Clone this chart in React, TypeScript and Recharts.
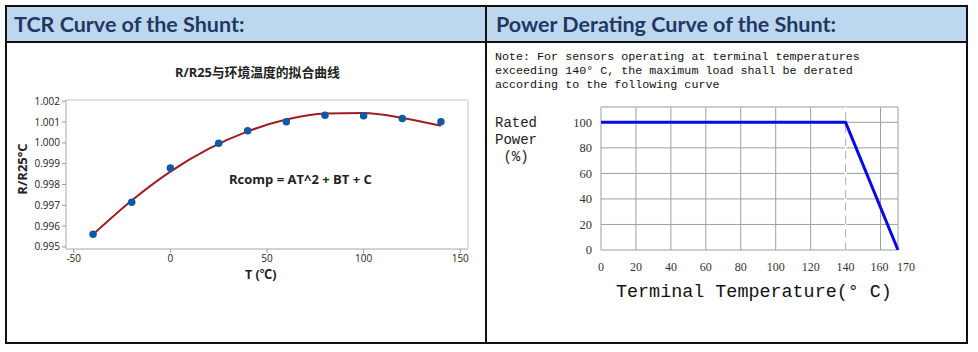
import React from "react"
import {
  ComposedChart,
  LineChart,
  Line,
  Scatter,
  XAxis,
  YAxis,
  ZAxis,
  CartesianGrid,
  ReferenceArea,
  ReferenceLine,
} from "recharts"

const tcrTemps = [-40, -20, 0, 25, 40, 60, 80, 100, 120, 140]
const tcrRatio = [0.99561, 0.99715, 0.99879, 0.99998, 1.00058, 1.00101, 1.00133, 1.0013, 1.00117, 1.00101]
const fitTemps = [-40, -20, 0, 20, 40, 60, 80, 100, 120, 140]
const fitRatio = [0.9956, 0.99723, 0.99862, 0.99972, 1.00055, 1.00112, 1.00141, 1.00143, 1.0012, 1.00082]
const tcrXTicks = [-50, 0, 50, 100, 150]
const tcrYTicks = [0.995, 0.996, 0.997, 0.998, 0.999, 1.0, 1.001, 1.002]

// derating curve
const deratTemps = [0, 140, 170]
const deratPower = [100, 100, 0]
const deratXTicks = [0, 20, 40, 60, 80, 100, 120, 140, 160, 170]
const deratYTicks = [0, 20, 40, 60, 80, 100]

const tcrPoints = tcrTemps.map((t, i) => ({ t, r: tcrRatio[i] }))
const fitPoints = fitTemps.map((t, i) => ({ t, r: fitRatio[i] }))
const deratData = deratTemps.map((t, i) => ({ t, p: deratPower[i] }))

const abs = (left: number, top: number, extra: React.CSSProperties = {}): React.CSSProperties => ({
  position: "absolute",
  left,
  top,
  whiteSpace: "nowrap",
  ...extra,
})

const headerFont: React.CSSProperties = {
  fontFamily: "Lato, sans-serif",
  fontWeight: 700,
  fontSize: 21.5,
  color: "#1f3864",
  lineHeight: "22px",
}

const sans = "'Open Sans', 'Noto Sans CJK SC', sans-serif"
const mono = "'Liberation Mono', monospace"
const serif = "'Liberation Serif', serif"

// the last tick label (170) sits just right of its gridline in the original
function DeratXTick(props: any) {
  const { x, y, payload } = props
  const shift = payload.value === 170 ? 8 : payload.value === 160 ? -1 : 0
  return (
    <text x={x + shift} y={y} dy="0.71em" textAnchor="middle" fontSize={12} fill="#333" fontFamily={serif}>
      {payload.value}
    </text>
  )
}

function TcrChart() {
  return (
    <ComposedChart width={480} height={298} margin={{ top: 56, right: 18, bottom: 63, left: 20 }}>
      <XAxis
        type="number"
        dataKey="t"
        domain={[-54, 154]}
        ticks={tcrXTicks}
        allowDataOverflow
        height={30}
        axisLine={{ stroke: "#c4c4c4" }}
        tickLine={{ stroke: "#9a9a9a" }}
        tickSize={4}
        tick={{ fontSize: 10, fill: "#222", fontFamily: sans }}
      />
      <YAxis
        type="number"
        dataKey="r"
        domain={[0.9949, 1.00206]}
        ticks={tcrYTicks}
        allowDataOverflow
        width={40}
        axisLine={{ stroke: "#c4c4c4" }}
        tickLine={{ stroke: "#9a9a9a" }}
        tickSize={4}
        tickFormatter={(v: number) => v.toFixed(3)}
        tick={{ fontSize: 10, fill: "#222", fontFamily: sans }}
      />
      <ZAxis range={[44, 44]} />
      <ReferenceArea x1={-54} x2={154} y1={0.9949} y2={1.00206} fill="none" stroke="#c4c4c4" />
      <Line
        data={fitPoints}
        dataKey="r"
        type="monotone"
        stroke="#a01c24"
        strokeWidth={2}
        dot={false}
        isAnimationActive={false}
      />
      <Scatter data={tcrPoints} dataKey="r" fill="#0b5aa6" isAnimationActive={false} />
    </ComposedChart>
  )
}

function DeratingChart() {
  return (
    <LineChart width={478} height={298} data={deratData} margin={{ top: 63, right: 68, bottom: 72, left: 83 }}>
      <CartesianGrid stroke="#9a9fa8" />
      <XAxis
        type="number"
        dataKey="t"
        domain={[0, 170]}
        ticks={deratXTicks}
        interval={0}
        height={20}
        axisLine={false}
        tickLine={false}
        tickMargin={6}
        tick={<DeratXTick />}
      />
      <YAxis
        type="number"
        domain={[0, 112]}
        ticks={deratYTicks}
        allowDataOverflow
        width={30}
        axisLine={false}
        tickLine={false}
        tickMargin={3}
        tick={{ fontSize: 12.5, fill: "#333", fontFamily: serif }}
      />
      <ReferenceLine y={112} stroke="#c8c8c8" />
      <ReferenceLine x={140} stroke="#ffffff" strokeWidth={2} />
      <ReferenceLine x={140} stroke="#b4b4b4" strokeDasharray="8 5" />
      <Line
        dataKey="p"
        type="linear"
        stroke="#0a0ae6"
        strokeWidth={3}
        dot={false}
        isAnimationActive={false}
      />
    </LineChart>
  )
}

export default function App() {
  return (
    <div style={{ position: "fixed", left: 0, top: 0, width: 978, height: 352, background: "#fff", overflow: "hidden" }}>
      {/* header band */}
      <div style={abs(7, 7, { width: 959, height: 34, background: "#bdd7ee" })} />
      <div style={abs(14, 13, headerFont)}>TCR Curve of the Shunt:</div>
      <div style={abs(496, 13, headerFont)}>Power Derating Curve of the Shunt:</div>

      {/* table lines */}
      <div style={abs(5, 5, { width: 963, height: 2, background: "#111" })} />
      <div style={abs(5, 342, { width: 963, height: 2, background: "#111" })} />
      <div style={abs(5, 5, { width: 2, height: 339, background: "#111" })} />
      <div style={abs(966, 5, { width: 2, height: 339, background: "#111" })} />
      <div style={abs(485, 5, { width: 2, height: 339, background: "#111" })} />
      <div style={abs(5, 41, { width: 963, height: 2, background: "#111" })} />

      {/* left panel */}
      <div style={abs(6, 44)}>
        <TcrChart />
      </div>
      <div style={abs(175, 62, { fontFamily: sans, fontWeight: 700, fontSize: 12.8, color: "#222" })}>
        R/R25与环境温度的拟合曲线
      </div>
      <div style={abs(229, 170, { fontFamily: sans, fontWeight: 700, fontSize: 13, color: "#222" })}>
        Rcomp = AT^2 + BT + C
      </div>
      <div style={abs(245, 264, { fontFamily: sans, fontWeight: 700, fontSize: 12.5, color: "#222" })}>
        T (℃)
      </div>
      <div
        style={abs(-5, 160, {
          width: 54,
          textAlign: "center",
          fontFamily: sans,
          fontWeight: 700,
          fontSize: 13,
          color: "#222",
          transform: "rotate(-90deg)",
        })}
      >
        R/R25°C
      </div>

      {/* right panel */}
      <div style={abs(488, 44)}>
        <DeratingChart />
      </div>
      <div style={abs(495, 50, { fontFamily: mono, fontSize: 11.7, lineHeight: "14px", color: "#111" })}>
        Note: For sensors operating at terminal temperatures
        <br />
        exceeding 140° C, the maximum load shall be derated
        <br />
        according to the following curve
      </div>
      <div style={abs(495, 115, { fontFamily: mono, fontSize: 14, lineHeight: "17px", color: "#222" })}>
        Rated
        <br />
        Power
        <br />
        &nbsp;(%)
      </div>
      <div style={abs(616, 282, { fontFamily: mono, fontSize: 18.4, lineHeight: "22px", color: "#111" })}>
        Terminal Temperature(° C)
      </div>
    </div>
  )
}
